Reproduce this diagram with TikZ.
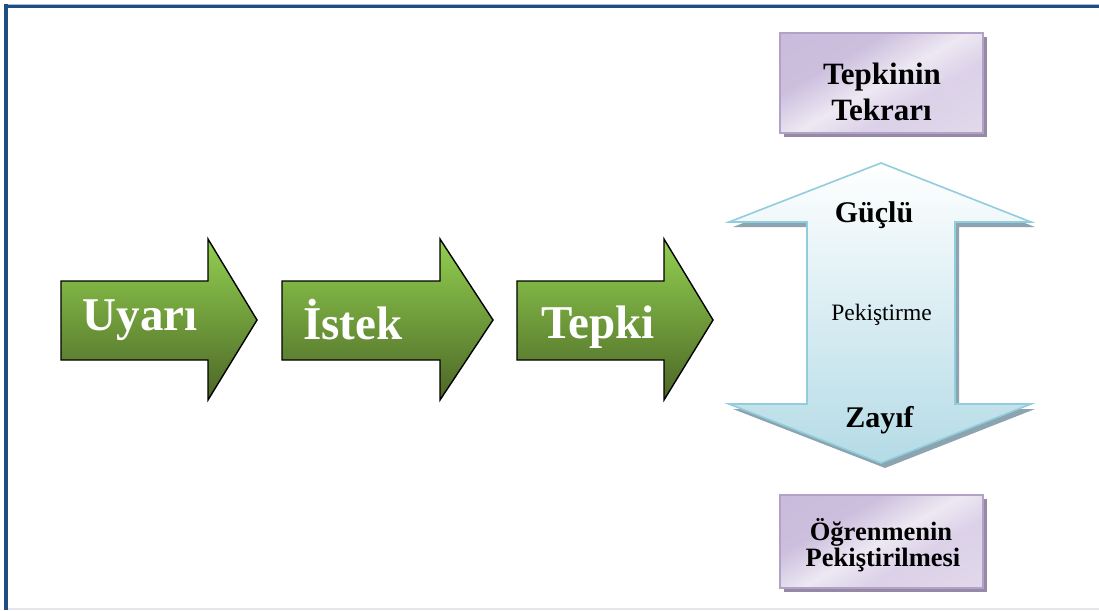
\documentclass[tikz,border=0pt]{standalone}
\usepackage{fontspec}
\setmainfont{Liberation Serif}
\definecolor{framedark}{RGB}{31,78,133}
\definecolor{framelight}{RGB}{170,190,215}
\definecolor{pageline}{RGB}{228,228,234}
\definecolor{greentop}{RGB}{146,208,80}
\definecolor{greenbottom}{RGB}{76,102,38}
\definecolor{blueedge}{RGB}{146,205,221}
\definecolor{bluebottom}{RGB}{180,219,230}
\definecolor{blueshade}{RGB}{140,163,176}
\definecolor{purpleedge}{RGB}{178,162,199}
\definecolor{purpleshade}{RGB}{150,137,166}
\begin{document}
\begin{tikzpicture}[x=1pt,y=-1pt,
  greenarrow/.style={draw=black,line width=1.4pt,line join=miter,
    top color=greentop,bottom color=greenbottom},
  bluearrow/.style={draw=blueedge,line width=1.6pt,line join=miter,
    top color=white,bottom color=bluebottom},
  blueshadow/.style={fill=blueshade},
  purplebox/.style={draw=purpleedge,line width=1.5pt,
    shading=boxshade,shading angle=-60},
  purpleshadow/.style={fill=purpleshade},
  bigword/.style={anchor=base,inner sep=0pt,text=white,font=\bfseries\fontsize{47}{50}\selectfont},
  arrowword/.style={anchor=base,inner sep=0pt,font=\bfseries\fontsize{30}{34}\selectfont},
  boxword/.style={anchor=base,inner sep=0pt,font=\bfseries\fontsize{31}{36}\selectfont},
  smallboxword/.style={anchor=base,inner sep=0pt,font=\bfseries\fontsize{26.5}{28}\selectfont}]
\pgfdeclarehorizontalshading{boxshade}{100bp}{
  rgb(0bp)=(0.78,0.72,0.85);
  rgb(35bp)=(0.80,0.75,0.87);
  rgb(50bp)=(0.93,0.91,0.95);
  rgb(62bp)=(0.86,0.82,0.91);
  rgb(100bp)=(0.90,0.87,0.93)}
\useasboundingbox (0,0) rectangle (1099,610);
\fill[white] (0,0) rectangle (1099,610);

% page frame
\draw[framelight,line width=1pt] (4,4.5) -- (1099,4.5);
\draw[framedark,line width=3.6pt] (4,6.5) -- (1099,6.5);
\draw[framedark,line width=4pt] (6,4.5) -- (6,610);
\draw[pageline,line width=1.2pt] (8,609) -- (1099,609);

% green step arrows
\newcommand{\steparrow}[3]{%
  \path[greenarrow] (#1,281) -- (#2,281) -- (#2,239) -- (#3,320)
    -- (#2,400) -- (#2,360) -- (#1,360) -- cycle;}
\steparrow{61}{208}{257}
\steparrow{282}{440}{493}
\steparrow{517}{664}{713}
\node[bigword] (uyari) at (140,330) {Uyarı};
\node[bigword] (istek) at (353,339) {İstek};
\node[bigword] (tepki) at (598,338) {Tepki};

% double-headed reinforcement arrow
\newcommand{\doublearrowpath}[2]{%
  (881+#1,163+#2) -- (1031+#1,222+#2) -- (955+#1,222+#2) -- (955+#1,404+#2)
  -- (1031+#1,404+#2) -- (881+#1,463+#2) -- (729+#1,404+#2) -- (807+#1,404+#2)
  -- (807+#1,222+#2) -- (729+#1,222+#2) -- cycle}
\path[blueshadow] \doublearrowpath{4}{5};
\path[bluearrow] \doublearrowpath{0}{0};
\node[arrowword] (guclu) at (874,222) {Güçlü};
\node[anchor=base,inner sep=0pt,font=\fontsize{23.5}{26}\selectfont] (pekistirme) at (881.5,320.5) {Pekiştirme};
\node[arrowword] (zayif) at (879.5,427) {Zayıf};

% result boxes
\fill[purpleshadow] (784,37) rectangle (987,137);
\path[purplebox] (780,33) rectangle (983,133);
\node[boxword] (tekrar1) at (882,84) {Tepkinin};
\node[boxword] (tekrar2) at (881.5,120) {Tekrarı};

\fill[purpleshadow] (784,499) rectangle (987,592);
\path[purplebox] (780,495) rectangle (983,588);
\node[smallboxword] (ogrenme1) at (881,540) {Öğrenmenin};
\node[smallboxword] (ogrenme2) at (883,566) {Pekiştirilmesi};
\end{tikzpicture}
\end{document}
